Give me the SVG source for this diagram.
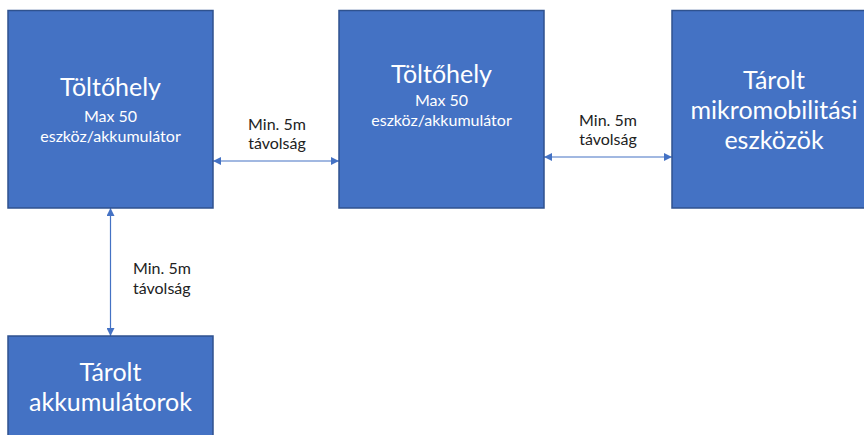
<svg xmlns="http://www.w3.org/2000/svg" width="864" height="435" viewBox="0 0 864 435">
<style>
.box{fill:#4472C4;stroke:#2F528F;stroke-width:1.5}
.t{font-family:Lato,"Liberation Sans",sans-serif;fill:#fff;text-anchor:middle}
.big{font-size:25px}
.sm{font-size:16px}
.lbl{font-family:Lato,"Liberation Sans",sans-serif;font-size:16px;fill:#222}
.con{stroke:#4472C4;stroke-width:1.2;fill:none;marker-start:url(#a);marker-end:url(#a)}
</style>
<defs>
<marker id="a" viewBox="0 0 10 10" refX="10" refY="5" markerWidth="8" markerHeight="8" markerUnits="userSpaceOnUse" orient="auto-start-reverse">
<path d="M0,0 L10,5 L0,10 z" fill="#4472C4"/>
</marker>
</defs>
<rect width="864" height="435" fill="#fff"/>
<g id="connectors">
<line class="con" x1="213" y1="161" x2="339" y2="161"/>
<line class="con" x1="544" y1="157" x2="672" y2="157"/>
<line class="con" x1="110.5" y1="208" x2="110.5" y2="336"/>
<text class="lbl" x="277" y="130" text-anchor="middle">Min. 5m</text>
<text class="lbl" x="277" y="149" text-anchor="middle">távolság</text>
<text class="lbl" x="608" y="126" text-anchor="middle">Min. 5m</text>
<text class="lbl" x="608" y="145" text-anchor="middle">távolság</text>
<text class="lbl" x="133" y="274">Min. 5m</text>
<text class="lbl" x="133" y="294">távolság</text>
</g>
<g id="node1">
<rect class="box" x="8" y="10.5" width="205" height="197.5"/>
<text class="t big" x="110.5" y="96">Töltőhely</text>
<text class="t sm" x="110.5" y="122">Max 50</text>
<text class="t sm" x="110.5" y="142">eszköz/akkumulátor</text>
</g>
<g id="node2">
<rect class="box" x="339" y="10.5" width="205" height="197.5"/>
<text class="t big" x="441.5" y="83">Töltőhely</text>
<text class="t sm" x="441.5" y="106">Max 50</text>
<text class="t sm" x="441.5" y="126">eszköz/akkumulátor</text>
</g>
<g id="node3">
<rect class="box" x="672" y="10.5" width="205" height="197.5"/>
<text class="t big" x="774" y="89">Tárolt</text>
<text class="t big" x="774" y="119">mikromobilitási</text>
<text class="t big" x="774" y="149">eszközök</text>
</g>
<g id="node4">
<rect class="box" x="8" y="336" width="205" height="110"/>
<text class="t big" x="110.5" y="381">Tárolt</text>
<text class="t big" x="110.5" y="411">akkumulátorok</text>
</g>
</svg>
